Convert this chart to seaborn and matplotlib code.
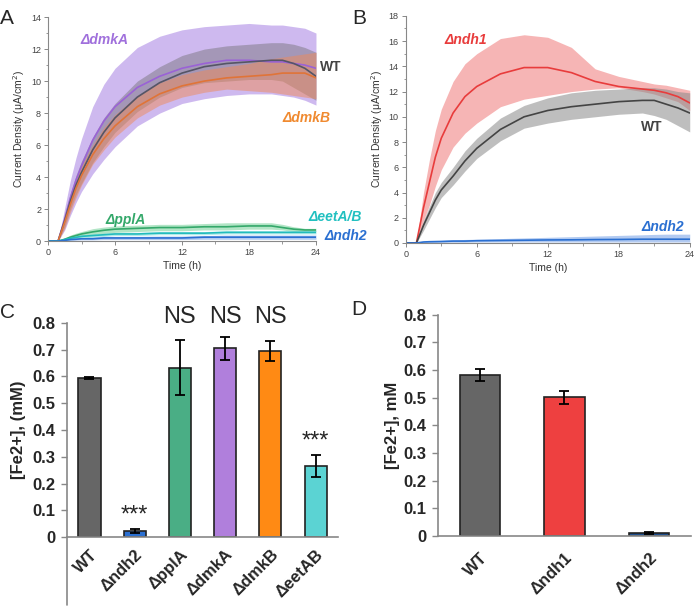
import matplotlib
matplotlib.use("Agg")
import matplotlib.pyplot as plt
import seaborn as sns
import numpy as np
from matplotlib.ticker import MultipleLocator

# ---------------- data ----------------
# time points (h) for the chronoamperometry curves
t = [0, 0.9, 1.5, 2, 2.5, 3, 4, 5, 6, 8, 10, 12, 14, 16, 18, 20, 21, 22, 23, 24]

# panel A
wt_mean = [0, 0, 1.3, 2.5, 3.5, 4.3, 5.7, 6.8, 7.7, 9.0, 9.9, 10.5, 10.9, 11.1, 11.2, 11.3, 11.3, 11.1, 10.8, 10.3]
wt_low = [0, 0, 0.9, 2.0, 2.9, 3.6, 4.9, 5.9, 6.8, 8.1, 9.0, 9.6, 9.9, 10.0, 10.1, 10.1, 10.0, 9.6, 9.2, 8.8]
wt_high = [0, 0, 1.7, 3.0, 4.1, 5.0, 6.5, 7.7, 8.6, 10.0, 10.9, 11.6, 12.0, 12.2, 12.3, 12.4, 12.4, 12.3, 12.1, 11.8]

dmka_mean = [0, 0, 1.4, 2.7, 3.8, 4.7, 6.3, 7.5, 8.4, 9.6, 10.3, 10.8, 11.1, 11.3, 11.3, 11.2, 11.2, 11.1, 11.0, 10.8]
dmka_low = [0, 0, 0.7, 1.6, 2.4, 3.1, 4.2, 5.1, 5.9, 7.2, 8.0, 8.6, 8.9, 9.1, 9.2, 9.2, 9.1, 9.0, 8.8, 8.5]
dmka_high = [0, 0, 2.1, 3.8, 5.2, 6.4, 8.4, 9.8, 10.8, 12.1, 12.8, 13.2, 13.4, 13.5, 13.6, 13.5, 13.5, 13.4, 13.3, 13.0]

dmkb_mean = [0, 0, 1.2, 2.3, 3.3, 4.1, 5.4, 6.4, 7.2, 8.4, 9.2, 9.7, 10.0, 10.2, 10.3, 10.4, 10.5, 10.5, 10.5, 10.2]
dmkb_low = [0, 0, 0.8, 1.8, 2.7, 3.5, 4.8, 5.7, 6.5, 7.7, 8.5, 9.0, 9.3, 9.5, 9.4, 9.3, 9.2, 9.1, 9.0, 8.9]
dmkb_high = [0, 0, 1.6, 2.8, 3.9, 4.7, 6.0, 7.1, 7.9, 9.1, 9.9, 10.4, 10.7, 10.9, 11.1, 11.4, 11.5, 11.6, 11.7, 11.8]

ppla_mean = [0, 0, 0.12, 0.25, 0.35, 0.45, 0.58, 0.68, 0.75, 0.8, 0.85, 0.85, 0.9, 0.9, 0.95, 0.95, 0.85, 0.75, 0.7, 0.7]
ppla_low = [0, 0, 0.05, 0.12, 0.2, 0.28, 0.4, 0.48, 0.55, 0.6, 0.65, 0.65, 0.7, 0.7, 0.75, 0.75, 0.7, 0.6, 0.6, 0.6]
ppla_high = [0, 0, 0.2, 0.38, 0.5, 0.6, 0.78, 0.88, 0.95, 1.0, 1.05, 1.05, 1.1, 1.15, 1.15, 1.15, 1.05, 0.9, 0.8, 0.8]

eet_mean = [0, 0, 0.1, 0.18, 0.24, 0.3, 0.35, 0.4, 0.45, 0.45, 0.5, 0.5, 0.5, 0.55, 0.55, 0.55, 0.55, 0.55, 0.55, 0.55]
eet_low = [0, 0, 0.05, 0.1, 0.15, 0.2, 0.25, 0.3, 0.35, 0.35, 0.4, 0.4, 0.4, 0.45, 0.45, 0.45, 0.45, 0.45, 0.45, 0.45]
eet_high = [0, 0, 0.15, 0.26, 0.33, 0.4, 0.45, 0.5, 0.55, 0.55, 0.6, 0.6, 0.6, 0.65, 0.65, 0.65, 0.65, 0.65, 0.65, 0.65]

ndh2a_mean = [0, 0, 0.05, 0.1, 0.12, 0.15, 0.15, 0.2, 0.2, 0.2, 0.2, 0.2, 0.25, 0.25, 0.25, 0.25, 0.25, 0.25, 0.25, 0.25]
ndh2a_low = [0, 0, 0.0, 0.05, 0.06, 0.08, 0.08, 0.1, 0.1, 0.1, 0.1, 0.1, 0.12, 0.12, 0.12, 0.12, 0.12, 0.12, 0.12, 0.12]
ndh2a_high = [0, 0, 0.1, 0.15, 0.18, 0.22, 0.25, 0.3, 0.3, 0.3, 0.32, 0.32, 0.35, 0.38, 0.38, 0.38, 0.38, 0.38, 0.38, 0.38]

# panel B
ndh1_mean = [0, 0, 2.8, 4.8, 6.8, 8.3, 10.3, 11.6, 12.4, 13.4, 13.9, 13.9, 13.5, 12.8, 12.4, 12.2, 12.1, 11.9, 11.6, 11.1]
ndh1_low = [0, 0, 1.8, 3.0, 4.5, 5.8, 7.6, 8.7, 9.5, 10.8, 11.4, 11.7, 12.0, 12.2, 12.3, 12.0, 11.8, 11.5, 11.2, 10.5]
ndh1_high = [0, 0, 4.0, 6.6, 8.9, 10.6, 12.8, 14.2, 15.0, 16.2, 16.5, 16.3, 15.5, 13.8, 13.2, 12.8, 12.6, 12.5, 12.3, 12.1]

wtb_mean = [0, 0, 1.4, 2.4, 3.4, 4.2, 5.3, 6.5, 7.5, 9.0, 10.0, 10.5, 10.8, 11.0, 11.2, 11.3, 11.3, 11.0, 10.7, 10.3]
wtb_low = [0, 0, 1.0, 1.9, 2.8, 3.6, 4.6, 5.7, 6.7, 8.1, 9.1, 9.5, 9.8, 10.0, 10.2, 10.3, 10.1, 9.8, 9.3, 8.8]
wtb_high = [0, 0, 1.8, 2.9, 4.0, 4.8, 6.0, 7.3, 8.3, 9.9, 10.9, 11.5, 11.9, 12.1, 12.2, 12.3, 12.3, 12.2, 12.0, 11.9]

ndh2b_mean = [0, 0, 0.08, 0.1, 0.11, 0.12, 0.15, 0.15, 0.18, 0.2, 0.22, 0.24, 0.25, 0.27, 0.28, 0.3, 0.3, 0.3, 0.3, 0.3]
ndh2b_low = [0, 0, 0.02, 0.04, 0.04, 0.05, 0.06, 0.06, 0.08, 0.08, 0.08, 0.08, 0.08, 0.08, 0.08, 0.08, 0.08, 0.08, 0.08, 0.08]
ndh2b_high = [0, 0, 0.12, 0.15, 0.18, 0.2, 0.25, 0.28, 0.3, 0.35, 0.4, 0.45, 0.5, 0.55, 0.6, 0.65, 0.68, 0.7, 0.7, 0.7]

# panel C
c_labels = ["WT", "\u0394ndh2", "\u0394pplA", "\u0394dmkA", "\u0394dmkB", "\u0394eetAB"]
c_values = [0.593, 0.022, 0.633, 0.704, 0.695, 0.265]
c_err = [0.004, 0.007, 0.102, 0.042, 0.038, 0.04]
c_colors = ["#666666", "#2a6fd1", "#4aae85", "#b07fdc", "#ff8a14", "#5bd3d3"]
c_marks = ["", "***", "NS", "NS", "NS", "***"]

# panel D
d_labels = ["WT", "\u0394ndh1", "\u0394ndh2"]
d_values = [0.583, 0.501, 0.010]
d_err = [0.021, 0.022, 0.004]
d_colors = ["#666666", "#ee4040", "#1f4e8c"]

bar_ticks = [0, 0.1, 0.2, 0.3, 0.4, 0.5, 0.6, 0.7, 0.8]

# ---------------- style ----------------
sns.set_style("ticks")
plt.rcParams["font.family"] = ["Liberation Sans", "DejaVu Sans"]

fig = plt.figure(figsize=(6.96, 6.09), dpi=100)

axA = fig.add_axes([0.069, 0.604, 0.385, 0.368])
axB = fig.add_axes([0.583, 0.601, 0.408, 0.373])
axC = fig.add_axes([0.096, 0.118, 0.39, 0.352])
axD = fig.add_axes([0.629, 0.120, 0.364, 0.363])


def style_curve_axes(ax, ymax, ystep):
    ax.set_xlim(0, 24)
    ax.set_ylim(0, ymax)
    ax.xaxis.set_major_locator(MultipleLocator(6))
    ax.xaxis.set_minor_locator(MultipleLocator(3))
    ax.yaxis.set_major_locator(MultipleLocator(ystep))
    ax.yaxis.set_minor_locator(MultipleLocator(ystep / 2))
    for s in ["top", "right"]:
        ax.spines[s].set_visible(False)
    for s in ["left", "bottom"]:
        ax.spines[s].set_color("#888888")
        ax.spines[s].set_linewidth(0.8)
    ax.tick_params(which="major", direction="out", length=3, width=0.7,
                   color="#888888", labelsize=6.5, labelcolor="#444444", pad=2)
    ax.tick_params(which="minor", direction="out", length=1.8, width=0.6, color="#888888")
    ax.set_xlabel("Time (h)", fontsize=7.5, color="#333333", labelpad=3)
    ax.set_ylabel("Current Density (\u03bcA/cm$^2$)", fontsize=7.5, color="#333333", labelpad=3)


def curve(ax, mean, low, high, line_c, fill_c, alpha):
    ax.fill_between(t, low, high, color=fill_c, alpha=alpha, linewidth=0)
    sns.lineplot(x=t, y=mean, color=line_c, linewidth=1.2, ax=ax)


# ---------------- panel A ----------------
curve(axA, dmka_mean, dmka_low, dmka_high, "#9a62d6", "#b08fe6", 0.62)
curve(axA, wt_mean, wt_low, wt_high, "#555566", "#6a6a6a", 0.42)
curve(axA, dmkb_mean, dmkb_low, dmkb_high, "#e07438", "#ee8a58", 0.5)
curve(axA, ppla_mean, ppla_low, ppla_high, "#34a86a", "#7fd4a0", 0.6)
curve(axA, eet_mean, eet_low, eet_high, "#22bcbc", "#80dede", 0.6)
curve(axA, ndh2a_mean, ndh2a_low, ndh2a_high, "#2a6fd1", "#7fa8e8", 0.6)
style_curve_axes(axA, 14, 2)

lab_kw = dict(fontsize=10, fontweight="bold", fontstyle="italic", va="center", clip_on=False)
axA.text(2.9, 12.55, "\u0394dmkA", color="#a070dc", ha="left", **lab_kw)
axA.text(24.35, 10.9, "WT", color="#444444", ha="left", fontsize=10, fontweight="bold", va="center")
axA.text(21.0, 7.7, "\u0394dmkB", color="#f08a30", ha="left", **lab_kw)
axA.text(5.1, 1.3, "\u0394pplA", color="#34a86a", ha="left", **lab_kw)
axA.text(23.3, 1.5, "\u0394eetA/B", color="#22c0c0", ha="left", **lab_kw)
axA.text(24.8, 0.35, "\u0394ndh2", color="#2a6fd1", ha="left", **lab_kw)

# ---------------- panel B ----------------
curve(axB, ndh1_mean, ndh1_low, ndh1_high, "#e83c3c", "#f07878", 0.55)
curve(axB, wtb_mean, wtb_low, wtb_high, "#444444", "#8a8a8a", 0.55)
curve(axB, ndh2b_mean, ndh2b_low, ndh2b_high, "#2a6fd1", "#7fa8e8", 0.6)
style_curve_axes(axB, 18, 2)
axB.text(3.3, 16.1, "\u0394ndh1", color="#e83c3c", ha="left", **lab_kw)
axB.text(19.9, 9.2, "WT", color="#444444", ha="left", fontsize=10, fontweight="bold", va="center")
axB.text(19.9, 1.27, "\u0394ndh2", color="#2a6fd1", ha="left", **lab_kw)


# ---------------- bar panels ----------------
def style_bar_axes(ax, n, xpad):
    ax.set_xlim(-0.5, n - 0.5)
    ax.set_ylim(0, 0.8)
    ax.set_yticks(bar_ticks, [f"{v:g}" for v in bar_ticks])
    for s in ["top", "right"]:
        ax.spines[s].set_visible(False)
    for s in ["left", "bottom"]:
        ax.spines[s].set_color("#888888")
        ax.spines[s].set_linewidth(1.2)
    ax.tick_params(axis="y", direction="out", length=4, width=1.0, color="#888888",
                   labelsize=12, pad=4)
    ax.tick_params(axis="x", length=0, labelsize=12, pad=xpad)
    for lab in ax.get_yticklabels() + ax.get_xticklabels():
        lab.set_fontweight("bold")
    for lab in ax.get_xticklabels():
        lab.set_rotation(45)
        lab.set_ha("right")
        lab.set_rotation_mode("anchor")
    ax.set_xlabel("")


sns.barplot(x=c_labels, y=c_values, hue=c_labels, palette=c_colors, legend=False,
            width=0.49, edgecolor="#222222", linewidth=1.2, saturation=1, ax=axC)
axC.errorbar(range(len(c_labels)), c_values, yerr=c_err, fmt="none",
             ecolor="black", elinewidth=1.3, capsize=3.5, capthick=1.3)
style_bar_axes(axC, len(c_labels), 7)
axC.set_ylabel("[Fe2+], (mM)", fontsize=12, fontweight="bold", labelpad=5)
for i, m in enumerate(c_marks):
    if m == "NS":
        axC.text(i, 0.82, m, ha="center", va="center", fontsize=17, clip_on=False)
    elif m:
        axC.text(i, c_values[i] + c_err[i] + 0.05, m, ha="center", va="center",
                 fontsize=17, clip_on=False)
# left axis line continues below the category labels
axC.plot([0, 0], [0, -0.254], transform=axC.get_yaxis_transform(), color="#888888",
         linewidth=1.2, clip_on=False)

sns.barplot(x=d_labels, y=d_values, hue=d_labels, palette=d_colors, legend=False,
            width=0.48, edgecolor="#222222", linewidth=1.2, saturation=1, ax=axD)
axD.errorbar(range(len(d_labels)), d_values, yerr=d_err, fmt="none",
             ecolor="black", elinewidth=1.3, capsize=3.5, capthick=1.3)
style_bar_axes(axD, len(d_labels), 10)
axD.set_ylabel("[Fe2+], mM", fontsize=12, fontweight="bold", labelpad=3)

# panel letters
fig.text(0.0, 0.985, "A", fontsize=15, va="top", ha="left")
fig.text(0.506, 0.985, "B", fontsize=15, va="top", ha="left")
fig.text(0.0, 0.503, "C", fontsize=15, va="top", ha="left")
fig.text(0.504, 0.508, "D", fontsize=15, va="top", ha="left")

fig.savefig("out.png", dpi=100)
